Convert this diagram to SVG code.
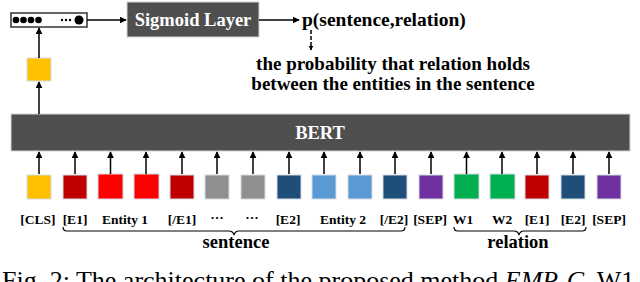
<svg xmlns="http://www.w3.org/2000/svg" width="640" height="282" viewBox="0 0 640 282">
<style>
.b{font-family:"Liberation Serif","Times New Roman",serif;font-weight:bold;fill:#000}
.w{font-family:"Liberation Serif","Times New Roman",serif;font-weight:bold;fill:#fff}
.lbl{font-size:13.5px;text-anchor:middle}
.ln{stroke:#000;stroke-width:1.5;fill:none}
.sq{stroke:#d4dbe3;stroke-width:1}
.brace{stroke:#000;stroke-width:1.2;fill:none}
</style>
<defs>
<marker id="ah" viewBox="0 0 10 10" refX="9" refY="5" markerWidth="5" markerHeight="5" orient="auto" markerUnits="userSpaceOnUse">
<path d="M0,0 L10,5 L0,10 z" fill="#000"/>
</marker>
<marker id="ah2" viewBox="0 0 10 10" refX="9" refY="5" markerWidth="7" markerHeight="7" orient="auto" markerUnits="userSpaceOnUse">
<path d="M0,0 L10,5 L0,10 z" fill="#000"/>
</marker>
</defs>
<rect width="640" height="282" fill="#fff"/>

<g id="vector">
<rect x="11" y="13" width="76" height="14" fill="#fff" stroke="#333" stroke-width="1.5"/>
<circle cx="16" cy="20" r="3.3" fill="#000"/>
<circle cx="23.5" cy="20" r="3.3" fill="#000"/>
<circle cx="31" cy="20" r="3.3" fill="#000"/>
<circle cx="38.5" cy="20" r="3.3" fill="#000"/>
<circle cx="62" cy="20" r="1.2" fill="#000"/>
<circle cx="66" cy="20" r="1.2" fill="#000"/>
<circle cx="70" cy="20" r="1.2" fill="#000"/>
<circle cx="79" cy="20" r="4.5" fill="#000"/>
</g>

<g id="sigmoid">
<rect x="127" y="2" width="132" height="35" fill="#4f4f4f" stroke="#d0d8e0" stroke-width="1"/>
<text class="w" x="193" y="26" font-size="18.5" text-anchor="middle">Sigmoid Layer</text>
</g>

<g id="output">
<text class="b" x="302" y="26" font-size="19.5">p(sentence,relation)</text>
</g>

<g id="explanation">
<text class="b" x="393" y="70" font-size="19" text-anchor="middle">the probability that relation holds</text>
<text class="b" x="393" y="90" font-size="19" text-anchor="middle">between the entities in the sentence</text>
</g>

<g id="cls-out">
<rect x="27" y="58" width="24" height="23" fill="#ffc000" class="sq"/>
</g>

<g id="bert">
<rect x="11" y="114" width="619" height="37" fill="#4f4f4f" stroke="#d0d8e0" stroke-width="1"/>
<text class="w" x="320" y="139" font-size="18.5" text-anchor="middle">BERT</text>
</g>

<g id="tokens">
<rect class="sq" x="27" y="175" width="24" height="24" fill="#ffc000"/>
<rect class="sq" x="63" y="175" width="24" height="24" fill="#c00000"/>
<rect class="sq" x="98" y="174" width="25" height="25" fill="#ff0000"/>
<rect class="sq" x="134" y="174" width="25" height="25" fill="#ff0000"/>
<rect class="sq" x="170" y="175" width="24" height="24" fill="#c00000"/>
<rect class="sq" x="205" y="175" width="24" height="24" fill="#8f8f8f"/>
<rect class="sq" x="241" y="175" width="24" height="24" fill="#8f8f8f"/>
<rect class="sq" x="277" y="175" width="24" height="24" fill="#1f4e79"/>
<rect class="sq" x="312" y="175" width="24" height="24" fill="#5b9bd5"/>
<rect class="sq" x="348" y="175" width="24" height="24" fill="#5b9bd5"/>
<rect class="sq" x="383" y="175" width="24" height="24" fill="#1f4e79"/>
<rect class="sq" x="419" y="175" width="24" height="24" fill="#7030a0"/>
<rect class="sq" x="454" y="174" width="25" height="25" fill="#00b050"/>
<rect class="sq" x="490" y="174" width="25" height="25" fill="#00b050"/>
<rect class="sq" x="525" y="175" width="24" height="24" fill="#c00000"/>
<rect class="sq" x="561" y="175" width="24" height="24" fill="#1f4e79"/>
<rect class="sq" x="597" y="175" width="24" height="24" fill="#7030a0"/>
</g>

<g id="connectors">
<line class="ln" x1="87" y1="20" x2="126" y2="20" marker-end="url(#ah2)"/>
<line class="ln" x1="259" y1="20" x2="299" y2="20" marker-end="url(#ah2)"/>
<line class="ln" x1="311" y1="30" x2="311" y2="50" stroke-dasharray="4,2" marker-end="url(#ah)"/>
<line class="ln" x1="39" y1="58" x2="39" y2="28" marker-end="url(#ah2)"/>
<line class="ln" x1="39" y1="114" x2="39" y2="82" marker-end="url(#ah2)"/>
<g marker-end="url(#ah2)">
<line class="ln" x1="39" y1="174" x2="39" y2="152"/>
<line class="ln" x1="75" y1="174" x2="75" y2="152"/>
<line class="ln" x1="110.5" y1="174" x2="110.5" y2="152"/>
<line class="ln" x1="146" y1="174" x2="146" y2="152"/>
<line class="ln" x1="182" y1="174" x2="182" y2="152"/>
<line class="ln" x1="217" y1="174" x2="217" y2="152"/>
<line class="ln" x1="253" y1="174" x2="253" y2="152"/>
<line class="ln" x1="289" y1="174" x2="289" y2="152"/>
<line class="ln" x1="324" y1="174" x2="324" y2="152"/>
<line class="ln" x1="360" y1="174" x2="360" y2="152"/>
<line class="ln" x1="395" y1="174" x2="395" y2="152"/>
<line class="ln" x1="431" y1="174" x2="431" y2="152"/>
<line class="ln" x1="466.5" y1="174" x2="466.5" y2="152"/>
<line class="ln" x1="502" y1="174" x2="502" y2="152"/>
<line class="ln" x1="537" y1="174" x2="537" y2="152"/>
<line class="ln" x1="573" y1="174" x2="573" y2="152"/>
<line class="ln" x1="609" y1="174" x2="609" y2="152"/>
</g>
</g>

<g id="labels">
<text class="b lbl" x="38" y="224">[CLS]</text>
<text class="b lbl" x="75" y="224">[E1]</text>
<text class="b lbl" x="125" y="224">Entity 1</text>
<text class="b lbl" x="182" y="224">[/E1]</text>
<text class="b lbl" x="217" y="222">···</text>
<text class="b lbl" x="252" y="222">···</text>
<text class="b lbl" x="288" y="224">[E2]</text>
<text class="b lbl" x="343" y="224">Entity 2</text>
<text class="b lbl" x="394" y="224">[/E2]</text>
<text class="b lbl" x="430" y="224">[SEP]</text>
<text class="b lbl" x="463" y="224">W1</text>
<text class="b lbl" x="502" y="224">W2</text>
<text class="b lbl" x="537" y="224">[E1]</text>
<text class="b lbl" x="573" y="224">[E2]</text>
<text class="b lbl" x="609" y="224">[SEP]</text>
</g>

<g id="sentence-brace">
<path class="brace" d="M63,227 Q63,231 67,231 L229,231 Q233,231 234,235 Q235,231 239,231 L401,231 Q405,231 405,227"/>
<text class="b" x="236" y="248" font-size="18.5" text-anchor="middle">sentence</text>
</g>

<g id="relation-brace">
<path class="brace" d="M454,227 Q454,231 458,231 L514,231 Q518,231 519,235 Q520,231 524,231 L582,231 Q586,231 586,227"/>
<text class="b" x="518" y="248" font-size="18.5" text-anchor="middle">relation</text>
</g>

<g id="caption">
<text x="2" y="289" font-family="Liberation Serif, Times New Roman, serif" font-size="26" fill="#000">Fig. 2: The architecture of the proposed method <tspan font-style="italic">EMR-C</tspan>. W1</text>
</g>
</svg>
